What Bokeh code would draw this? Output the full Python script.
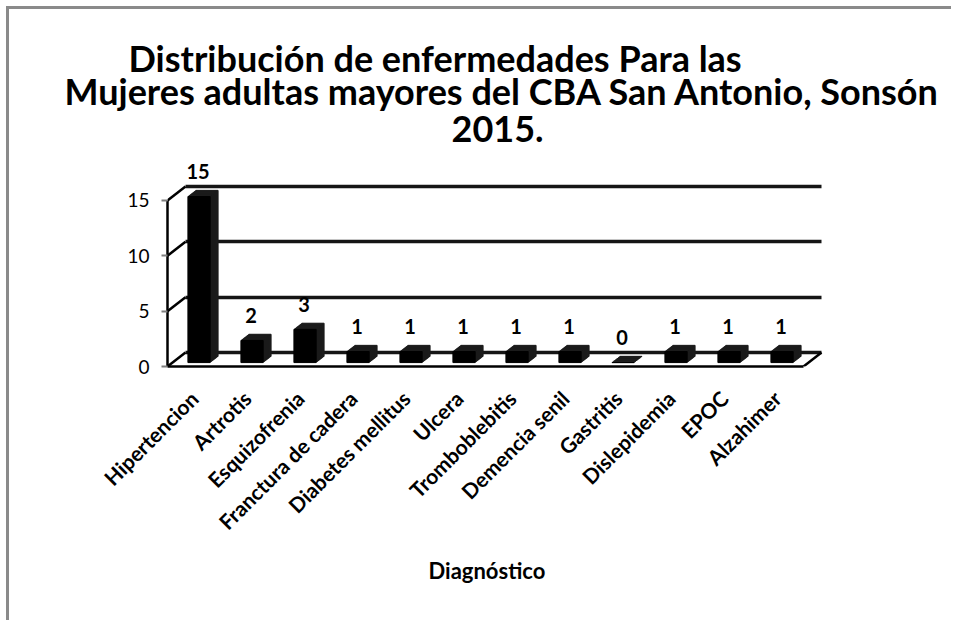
import math
import numpy as np
from bokeh.plotting import figure
from bokeh.models import Range1d, FixedTicker, Grid, Title
from bokeh.core.properties import value
from bokeh.embed import file_html
from bokeh.resources import INLINE

# ---------------- data ----------------
categories = ["Hipertencion", "Artrotis", "Esquizofrenia", "Franctura de cadera",
              "Diabetes mellitus", "Ulcera", "Tromboblebitis", "Demencia senil",
              "Gastritis", "Dislepidemia", "EPOC", "Alzahimer"]
counts = [15, 2, 3, 1, 1, 1, 1, 1, 0, 1, 1, 1]
y_ticks = [0, 5, 10, 15]
title_lines = ["Distribución de enfermedades Para las",
               "Mujeres adultas mayores del CBA  San Antonio, Sonsón",
               "2015."]
x_title = "Diagnóstico"

# ---------------- style / layout ----------------
FONT = "Lato"
W, H = 945, 614
ML, MR, MT, MB = 158, 128, 131, 257
FW = W - ML - MR
FH = H - MT - MB
PX_X = 53.0      # px per category
PX_Y = 11.07     # px per unit
DX, DY = 18.0, 14.0  # 3D depth of the walls in px

n = len(categories)
xs = list(range(n))
x0 = -0.5
x1 = x0 + FW / PX_X
y0 = 0.0
y1 = FH / PX_Y

p = figure(width=W, height=H, x_range=Range1d(x0, x1), y_range=Range1d(y0, y1),
           output_backend="svg", toolbar_location=None, title=None,
           min_border_left=ML, min_border_right=MR, min_border_top=MT,
           min_border_bottom=MB)
p.outline_line_color = None
p.background_fill_color = "white"
p.border_fill_color = "white"
p.xgrid.visible = False
p.ygrid.visible = False
p.styles = {"margin-left": "6px", "margin-top": "6px",
            "border-top": "3px solid #8a8a8a", "border-left": "3px solid #8a8a8a"}

# depth ranges
ex, ey = {}, {}
def depth_name(f, name):
    sx = f * DX / PX_X
    sy = f * DY / PX_Y
    ex[name] = Range1d(x0 - sx, x1 - sx)
    ey[name] = Range1d(y0 - sy, y1 - sy)
    return name

depth_name(1.0, "back")
fs = np.linspace(0.28, 0.72, 10)
names = [depth_name(f, f"d{k}") for k, f in enumerate(fs)]
p.extra_x_ranges = ex
p.extra_y_ranges = ey

# back wall grid lines (incl. back floor edge)
back_grid = Grid(dimension=1, ticker=FixedTicker(ticks=y_ticks),
                 x_range_name="back", y_range_name="back",
                 cross_bounds=(x0, n - 0.5),
                 grid_line_color="#151515", grid_line_width=3.5)
p.add_layout(back_grid)

# side wall / floor diagonals
ang = math.atan2(DY, DX)
ln = math.hypot(DX, DY)
p.ray(x=[x0] * len(y_ticks), y=y_ticks, length=ln, length_units="screen",
      angle=ang, line_color="black", line_width=2.5)
p.ray(x=[n - 0.5], y=[0], length=ln, length_units="screen",
      angle=ang, line_color="black", line_width=2.5)

# 3D bars: stacked copies from back to front
for k in range(len(names) - 1, -1, -1):
    col = "#000000" if k == 0 else "#1c1c1c"
    p.vbar(x=xs, top=counts, bottom=0, width=0.42, fill_color=col,
           line_color=col, line_width=1,
           x_range_name=names[k], y_range_name=names[k])

# value labels
p.text(x=xs, y=counts, text=[str(c) for c in counts], x_offset=4, y_offset=-29,
       text_align="center", text_baseline="alphabetic",
       text_font=value(FONT), text_font_style="bold", text_font_size="20px",
       text_color="black")

# axes
xa = p.xaxis[0]
xa.ticker = FixedTicker(ticks=xs)
xa.major_label_overrides = {i: c for i, c in enumerate(categories)}
xa.major_label_orientation = math.pi / 4
xa.bounds = (x0, n - 0.5)
xa.axis_line_width = 2.5
xa.axis_line_color = "black"
xa.major_tick_line_color = None
xa.minor_tick_line_color = None
xa.major_label_standoff = 22
xa.major_label_text_font = FONT
xa.major_label_text_font_style = "bold"
xa.major_label_text_font_size = "21px"
xa.major_label_text_color = "black"

ya = p.yaxis[0]
ya.ticker = FixedTicker(ticks=y_ticks)
ya.bounds = (min(y_ticks), max(y_ticks))
ya.axis_line_width = 2.5
ya.axis_line_color = "black"
ya.major_tick_out = 6
ya.major_tick_in = 0
ya.major_tick_line_color = "#7f7f7f"
ya.major_tick_line_width = 2
ya.minor_tick_line_color = None
ya.major_label_standoff = 12
ya.major_label_text_font = FONT
ya.major_label_text_font_size = "19px"
ya.major_label_text_color = "black"

# x-axis title, placed below the axis
p.add_layout(Title(text=x_title, align="left", offset=261, standoff=18,
                   text_font=FONT, text_font_style="bold",
                   text_font_size="22px", text_color="black"), "below")

# titles (first added is closest to the frame)
offsets = [-39, -103, 284]
standoffs = [-30, 4, -2]
for line, off, so in reversed(list(zip(title_lines, offsets, standoffs))):
    p.add_layout(Title(text=line, align="left", offset=off, standoff=so,
                       text_font=FONT, text_font_style="bold",
                       text_font_size="36px", text_color="black"), "above")

open("out.html", "w").write(file_html(p, INLINE))
